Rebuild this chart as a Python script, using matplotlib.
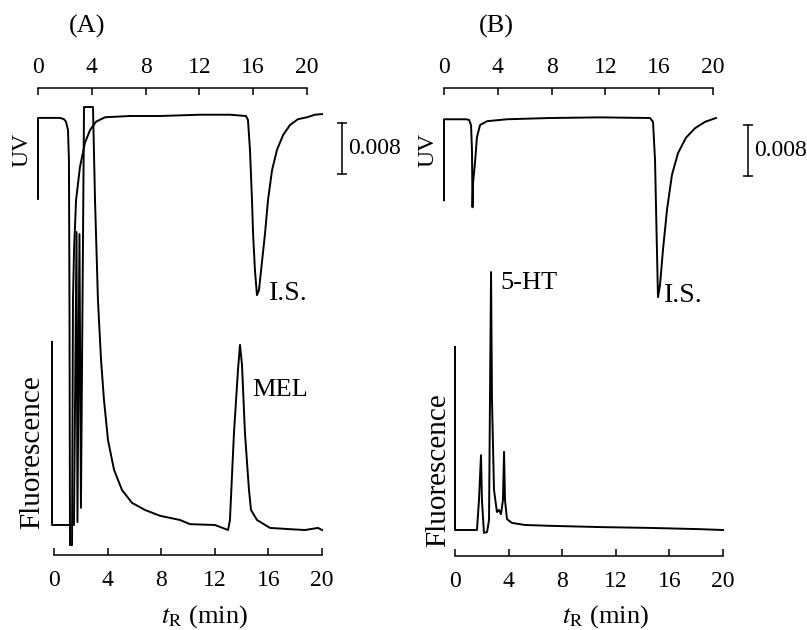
import matplotlib.pyplot as plt

plt.rcParams['font.family'] = ['Liberation Serif', 'DejaVu Serif']
plt.rcParams['mathtext.fontset'] = 'stix'
plt.rcParams['font.size'] = 17

ticks = [0, 4, 8, 12, 16, 20]
uv_scale = 0.008  # AU, scale bar

# (A) UV trace: time (min), absorbance (AU, plotted downward)
uv_a_t = [0.00, 0.00, 1.64, 1.93, 2.08, 2.23, 2.30, 2.34, 2.38, 2.53, 2.60,
          2.68, 2.83, 3.12, 3.49, 3.87, 4.31, 4.98, 6.84, 9.07, 12.04, 14.28,
          15.46, 15.61, 15.76, 15.91, 15.99, 16.13, 16.28, 16.43, 16.51, 16.88,
          17.10, 17.40, 17.77, 18.22, 18.74, 19.33, 20.00, 20.59, 21.12]
uv_a_abs = [0.0130, 0.0003, 0.0003, 0.0005, 0.0009, 0.0022, 0.0069, 0.0289,
            0.0673, 0.0673, 0.0289, 0.0210, 0.0132, 0.0080, 0.0042, 0.0022,
            0.0009, 0.0002, 0.0000, 0.0000, -0.0002, -0.0002, 0.0000, 0.0006,
            0.0053, 0.0132, 0.0184, 0.0242, 0.0281, 0.0273, 0.0257, 0.0184,
            0.0132, 0.0085, 0.0053, 0.0030, 0.0014, 0.0005, 0.0002, -0.0002,
            -0.0003]

# (A) fluorescence trace: time (min), intensity (% of full scale)
fl_a_t = [-0.15, -0.15, 1.49, 1.68, 1.75, 1.90, 2.01, 2.24, 2.91, 3.06, 3.28,
          3.51, 3.73, 4.03, 4.48, 5.07, 5.82, 6.79, 7.91, 9.40, 10.15, 12.01,
          12.99, 13.13, 13.43, 13.73, 13.88, 14.03, 14.25, 14.55, 14.70, 15.15,
          16.12, 17.61, 18.73, 19.70, 20.00]
fl_a_int = [43.8, 0.0, 0.0, 70.1, 0.7, 69.6, 4.1, 100.0, 100.0, 77.8, 53.8,
            39.5, 29.9, 20.3, 13.2, 8.4, 5.3, 3.6, 2.2, 1.2, 0.2, 0.0,
            -1.2, 1.2, 22.0, 37.1, 43.1, 38.3, 22.0, 8.4, 3.6, 1.2,
            -0.7, -1.0, -1.2, -0.7, -1.2]

# (B) UV trace
uv_b_t = [0.00, 0.00, 1.64, 1.86, 2.01, 2.08, 2.12, 2.16, 2.30, 2.45, 2.68,
          3.20, 4.68, 7.88, 11.60, 15.32, 15.54, 15.69, 15.80, 15.91, 16.06,
          16.28, 16.58, 16.95, 17.40, 17.99, 18.66, 19.41, 20.22]
uv_b_abs = [0.0129, 0.0002, 0.0002, 0.0003, 0.0011, 0.0050, 0.0140, 0.0102,
            0.0071, 0.0030, 0.0011, 0.0005, 0.0002, 0.0000, -0.0001, 0.0000,
            0.0006, 0.0066, 0.0176, 0.0281, 0.0262, 0.0207, 0.0144, 0.0089,
            0.0055, 0.0031, 0.0016, 0.0006, 0.0000]

# (B) fluorescence trace
fl_b_t = [0.00, 0.00, 1.64, 1.79, 1.94, 2.01, 2.16, 2.39, 2.54, 2.61, 2.69,
          2.76, 2.91, 3.13, 3.28, 3.43, 3.58, 3.66, 3.73, 3.88, 4.25, 5.22,
          7.09, 10.82, 14.55, 18.28, 20.00]
fl_b_int = [43.8, 0.0, 0.0, 7.2, 17.9, 7.2, -0.7, -0.5, 2.4, 31.1, 61.7,
            31.1, 9.6, 4.3, 4.8, 3.8, 7.2, 18.7, 7.2, 2.6, 1.7, 1.2,
            1.0, 0.7, 0.5, 0.2, 0.0]

W, H = 807, 630
fig = plt.figure(figsize=(W / 100, H / 100), dpi=100)


def box(left, right, top, bottom):
    return [left / W, 1 - bottom / H, (right - left) / W, (bottom - top) / H]


def setup(ax, where):
    ax.patch.set_visible(False)
    for s in ax.spines:
        ax.spines[s].set_visible(s == where)
    ax.spines[where].set_linewidth(1.1)
    ax.set_xlim(0, 20)
    ax.set_xticks(ticks)
    ax.set_yticks([])
    if where == 'top':
        ax.xaxis.tick_top()
        ax.tick_params(axis='x', direction='in', length=5, width=1.1, pad=7)
    else:
        ax.tick_params(axis='x', direction='in', length=5, width=1.1, pad=11)


k = uv_scale / 51
lw = 1.4
panels = [
    # uv x0, uv trace, fl trace, uv baseline px, fl baseline px, fl axis px,
    # fl x0, tag, tag x, peak name, name pos, name size, I.S. pos, fl label y
    (38, uv_a_t, uv_a_abs, fl_a_t, fl_a_int, 116, 525, 555, 54,
     '(A)', 87, 'MEL', (16.9, 32.3), 19, 'center', (18.6, 0.0279), 452),
    (444, uv_b_t, uv_b_abs, fl_b_t, fl_b_int, 118, 530, 556, 455,
     '(B)', 496, '5-HT', (3.4, 59.1), 19, 'left', (17.77, 0.0278), 470),
]

for (x0, ut, ua, ft, fi, uv_base, fl_base, fl_axis, fx0, tag, tag_x,
     name, name_xy, name_fs, name_ha, is_xy, fl_label_y) in panels:
    # UV chromatogram
    ax = fig.add_axes(box(x0, x0 + 269, 88, 560))
    setup(ax, 'top')
    ax.set_ylim((560 - uv_base) * k, (88 - uv_base) * k)
    ax.plot(ut, ua, color='black', lw=lw, clip_on=False)
    ax.plot([22.6, 22.6], [0.0011, 0.0011 + uv_scale], color='black', lw=1.1,
            marker='_', ms=7, mew=1.1, clip_on=False)
    ax.text(23.05, 0.0011 + uv_scale / 2, f'{uv_scale:.3f}', ha='left',
            va='center')
    ax.text(is_xy[0], is_xy[1], 'I.S.', ha='center', va='center',
            fontsize=20)

    # fluorescence chromatogram
    fa = fig.add_axes(box(fx0, fx0 + 268, 100, fl_axis))
    setup(fa, 'bottom')
    fa.set_ylim((fl_base - fl_axis) / 4.18, (fl_base - 100) / 4.18)
    fa.plot(ft, fi, color='black', lw=lw, clip_on=False)
    fa.text(name_xy[0], name_xy[1], name, ha=name_ha, va='center',
            fontsize=name_fs)

    fig.text(tag_x / W, 1 - 26 / H, tag, ha='center', va='center',
             fontsize=19)
    fig.text((x0 - 16) / W, 1 - 150 / H, 'UV', rotation=90,
             ha='center', va='center')
    fig.text((x0 - 6) / W, 1 - fl_label_y / H, 'Fluorescence', rotation=90,
             ha='center', va='center', fontsize=21)
    fig.text((fx0 + 150) / W, 1 - 617 / H, r'$t_{\rm R}$ (min)',
             ha='center', va='center', fontsize=19)

fig.savefig('out.png', dpi=100)
